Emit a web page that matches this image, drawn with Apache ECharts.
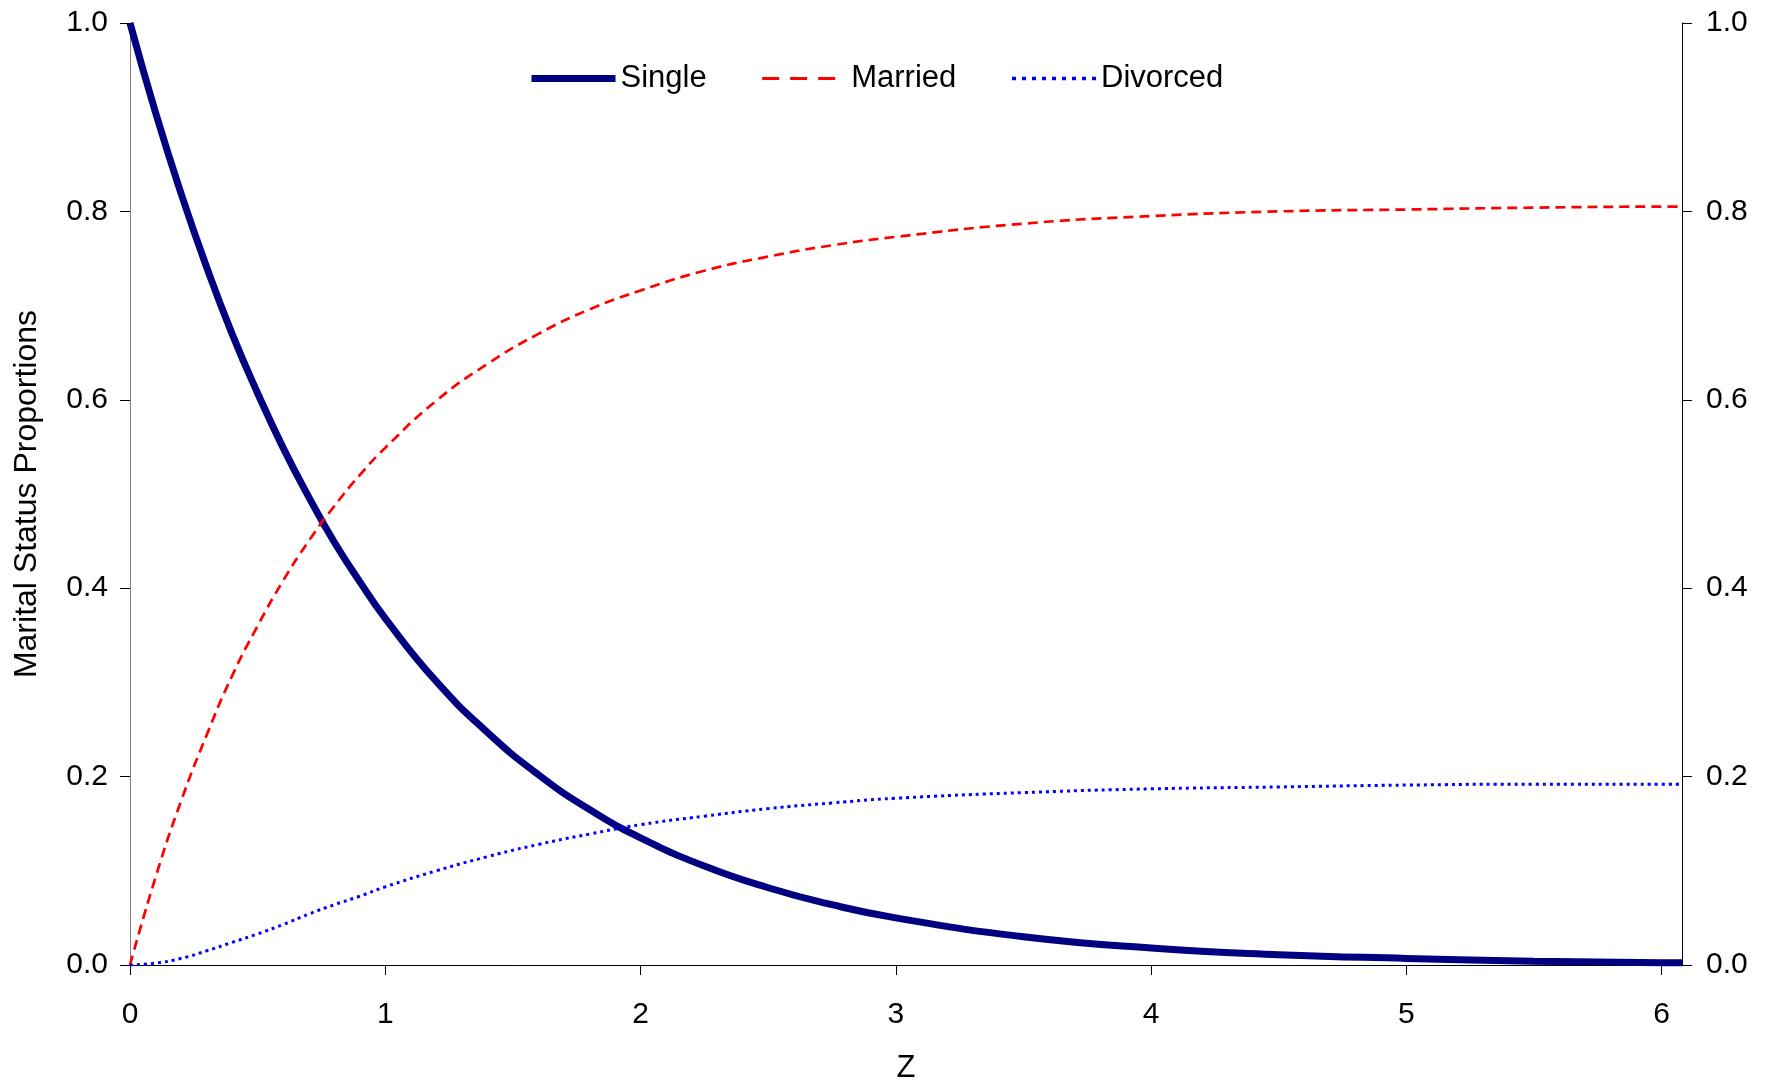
<!DOCTYPE html>
<html>
<head>
<meta charset="utf-8">
<script src="https://cdn.jsdelivr.net/npm/echarts@6/dist/echarts.min.js"></script>
<style>
  html, body { margin: 0; padding: 0; background: #fff; }
  #chart { width: 1773px; height: 1083px; }
</style>
</head>
<body>
<div id="chart"></div>
<script>
// ---- data ----
const zValues = [0, 0.1, 0.2, 0.3, 0.4, 0.5, 0.6, 0.7, 0.8, 0.9, 1.0, 1.2, 1.4, 1.6, 1.8, 2.0,
  2.25, 2.5, 2.75, 3.0, 3.5, 4.0, 4.5, 5.0, 5.5, 6.0, 6.08]
const single = [1.000, 0.905, 0.819, 0.741, 0.670, 0.607, 0.549, 0.497, 0.449, 0.407, 0.368,
  0.301, 0.247, 0.202, 0.165, 0.135, 0.105, 0.082, 0.064, 0.050, 0.030, 0.018, 0.011, 0.007,
  0.004, 0.0025, 0.0023]
const married = [0, 0.093, 0.174, 0.244, 0.307, 0.360, 0.408, 0.450, 0.487, 0.520, 0.549,
  0.599, 0.638, 0.670, 0.696, 0.716, 0.737, 0.752, 0.764, 0.773, 0.787, 0.795, 0.800, 0.802,
  0.804, 0.805, 0.805]
const divorced = [0, 0.002, 0.007, 0.015, 0.024, 0.033, 0.043, 0.054, 0.064, 0.073, 0.083,
  0.100, 0.115, 0.128, 0.139, 0.149, 0.158, 0.166, 0.172, 0.177, 0.183, 0.187, 0.189, 0.191,
  0.192, 0.192, 0.192]
const xTicks = [0, 1, 2, 3, 4, 5, 6]

const FONT = "'Liberation Sans', Arial, sans-serif"
const pairs = ys => zValues.map((z, i) => [z, ys[i]])

const chart = echarts.init(document.getElementById('chart'))

// same rectangle for both grids; no auto shrinking to fit labels
const gridRect = { left: 130, right: 91, top: 23, bottom: 118, outerBoundsMode: 'none', containLabel: false }

chart.setOption({
  animation: false,
  backgroundColor: '#fff',
  textStyle: { fontFamily: FONT },
  grid: [gridRect, { ...gridRect }],
  legend: {
    left: 523,
    top: 58,
    itemWidth: 84,
    itemHeight: 14,
    itemGap: 54,
    textStyle: { fontFamily: FONT, fontSize: 31, color: '#000' },
    data: [
      { name: 'Single', itemStyle: { opacity: 0 }, lineStyle: { width: 7 } },
      { name: 'Married', itemStyle: { opacity: 0 }, lineStyle: { width: 3, type: [17, 11] } },
      { name: 'Divorced', itemStyle: { opacity: 0 }, lineStyle: { width: 3.5, type: [4, 6] } }
    ]
  },
  xAxis: [
    {
      type: 'value',
      min: 0,
      max: 6.08,
      interval: 1,
      name: 'Z',
      nameLocation: 'middle',
      nameGap: 88,
      nameTextStyle: { fontFamily: FONT, fontSize: 31, color: '#000' },
      axisLine: { lineStyle: { color: '#000', width: 1 } },
      axisTick: { customValues: xTicks, length: 10, lineStyle: { color: '#000' } },
      axisLabel: {
        customValues: xTicks,
        margin: 35,
        fontFamily: FONT,
        fontSize: 30,
        color: '#000'
      },
      splitLine: { show: false }
    },
    { type: 'value', gridIndex: 1, min: 0, max: 6.08, show: false }
  ],
  yAxis: [
    {
      type: 'value',
      position: 'left',
      min: 0,
      max: 1,
      interval: 0.2,
      name: 'Marital Status Proportions',
      nameLocation: 'middle',
      nameRotate: 90,
      nameGap: 87,
      nameTextStyle: { fontFamily: FONT, fontSize: 32, color: '#000' },
      axisLine: { show: true, lineStyle: { color: '#808080', width: 1 } },
      axisTick: { show: true, length: 10, lineStyle: { color: '#000' } },
      axisLabel: {
        margin: 22,
        fontFamily: FONT,
        fontSize: 30,
        color: '#000',
        formatter: v => v.toFixed(1)
      },
      splitLine: { show: false }
    },
    {
      type: 'value',
      position: 'right',
      min: 0,
      max: 1,
      interval: 0.2,
      axisLine: { show: true, lineStyle: { color: '#000', width: 1 } },
      axisTick: { show: true, length: 10, lineStyle: { color: '#000' } },
      axisLabel: {
        margin: 24,
        fontFamily: FONT,
        fontSize: 30,
        color: '#000',
        formatter: v => v.toFixed(1)
      },
      splitLine: { show: false }
    },
    // inner half of the right-hand cross ticks
    {
      type: 'value',
      gridIndex: 1,
      position: 'right',
      min: 0,
      max: 1,
      interval: 0.2,
      axisLine: { show: false },
      axisTick: { show: true, inside: true, length: 10, lineStyle: { color: '#000' } },
      axisLabel: { show: false },
      splitLine: { show: false }
    }
  ],
  series: [
    {
      name: 'Single',
      type: 'line',
      data: pairs(single),
      smooth: true,
      symbol: 'none',
      color: '#000080',
      lineStyle: { color: '#000080', width: 7, cap: 'butt' },
      z: 3
    },
    {
      name: 'Married',
      type: 'line',
      data: pairs(married),
      smooth: true,
      symbol: 'none',
      color: '#FF0000',
      lineStyle: { color: '#FF0000', width: 2.7, type: [10, 6] }
    },
    {
      name: 'Divorced',
      type: 'line',
      data: pairs(divorced),
      smooth: true,
      symbol: 'none',
      color: '#0000FF',
      lineStyle: { color: '#0000FF', width: 3, type: [3, 4] }
    }
  ]
})
</script>
</body>
</html>
